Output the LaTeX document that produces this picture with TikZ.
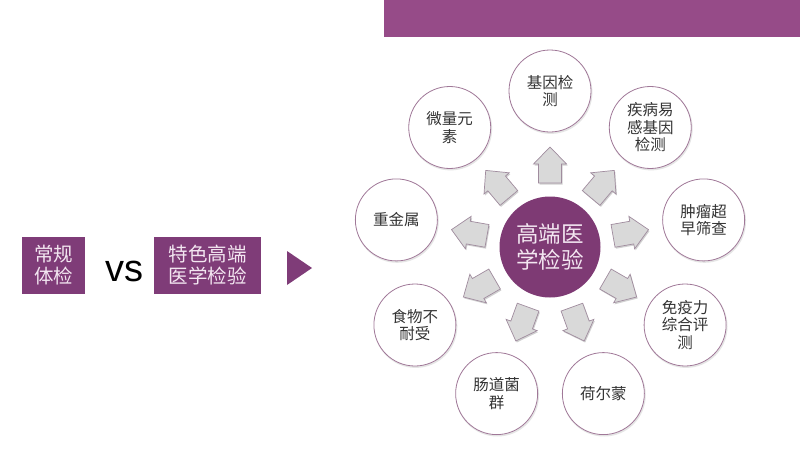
\documentclass[tikz,border=0pt]{standalone}
\usepackage{fontspec}
\setmainfont{Liberation Sans}
\newfontfamily\cjk{Noto Sans CJK SC}
\definecolor{barpurple}{HTML}{964B88}
\definecolor{boxpurple}{HTML}{7F3C78}
\definecolor{hubpurple}{HTML}{7E3A74}
\definecolor{ringcol}{HTML}{A07898}
\definecolor{arrowfill}{HTML}{D9D9D9}
\definecolor{arrowline}{HTML}{A08C9E}
\definecolor{lighttext}{HTML}{F3E6F1}
\definecolor{darktext}{HTML}{333333}
\tikzset{
  purplebox/.style={fill=boxpurple, draw=none, inner sep=0pt, align=center,
    text=lighttext, font=\cjk\fontsize{19.5}{22}\selectfont},
  ring/.style={circle, draw=ringcol, line width=0.8pt, fill=white, minimum size=82pt,
    inner sep=0pt, align=center, text=darktext, font=\cjk\fontsize{15.5}{17.5}\selectfont},
  hubnode/.style={circle, fill=hubpurple, draw=none, minimum size=101pt, inner sep=0pt,
    align=center, text=lighttext, font=\cjk\fontsize{22.5}{26}\selectfont},
  blockarrow/.style={fill=arrowfill, draw=arrowline, line width=0.7pt, line join=miter},
  arrowshadow/.style={fill=black!18, draw=none},
  ringshadow/.style={fill=black!10, draw=none}
}
\begin{document}
\begin{tikzpicture}[x=1pt,y=-1pt]
\useasboundingbox (0,0) rectangle (800,450);
\fill[white] (0,0) rectangle (800,450);
% top bar
\fill[barpurple] (384,0) rectangle (800,37);
% left part
\node[purplebox, minimum width=63pt, minimum height=57pt] (regular) at (53.5,265.5) {常规\\体检};
\node[anchor=base, font=\fontsize{38}{40}\selectfont, text=black] (vs) at (124.5,281) {vs};
\node[purplebox, minimum width=107pt, minimum height=57pt] (special) at (207.5,265.5) {特色高端\\医学检验};
\fill[boxpurple] (287,251) -- (287,285) -- (312,268) -- cycle;
% hub
\node[hubnode] (hub) at (550,247) {高端医\\学检验};
% arrows
\foreach \a in {90,50,10,-30,-70,-110,-150,170,130}{
  \begin{scope}[shift={(551,248.5)}, rotate=\a]
    \fill[arrowshadow] (64,-11.5) -- (83,-11.5) -- (83,-16.5) -- (100,0) -- (83,16.5) -- (83,11.5) -- (64,11.5) -- cycle;
  \end{scope}
  \begin{scope}[shift={(550,247)}, rotate=\a]
    \path[blockarrow] (64,-11.5) -- (83,-11.5) -- (83,-16.5) -- (100,0) -- (83,16.5) -- (83,11.5) -- (64,11.5) -- cycle;
  \end{scope}
}
% outer circles
\foreach \a/\t [count=\i] in {90/{基因检\\测}, 50/{疾病易\\感基因\\检测}, 10/{肿瘤超\\早筛查}, -30/{免疫力\\综合评\\测}, -70/{荷尔蒙}, -110/{肠道菌\\群}, -150/{食物不\\耐受}, 170/{重金属}, 130/{微量元\\素}}{
  \fill[ringshadow] ({550.8+156*cos(\a)},{248.3-156*sin(\a)}) circle (41.6);
  \node[ring] (c\i) at ({550+156*cos(\a)},{247-156*sin(\a)}) {\t};
}
\end{tikzpicture}
\end{document}
